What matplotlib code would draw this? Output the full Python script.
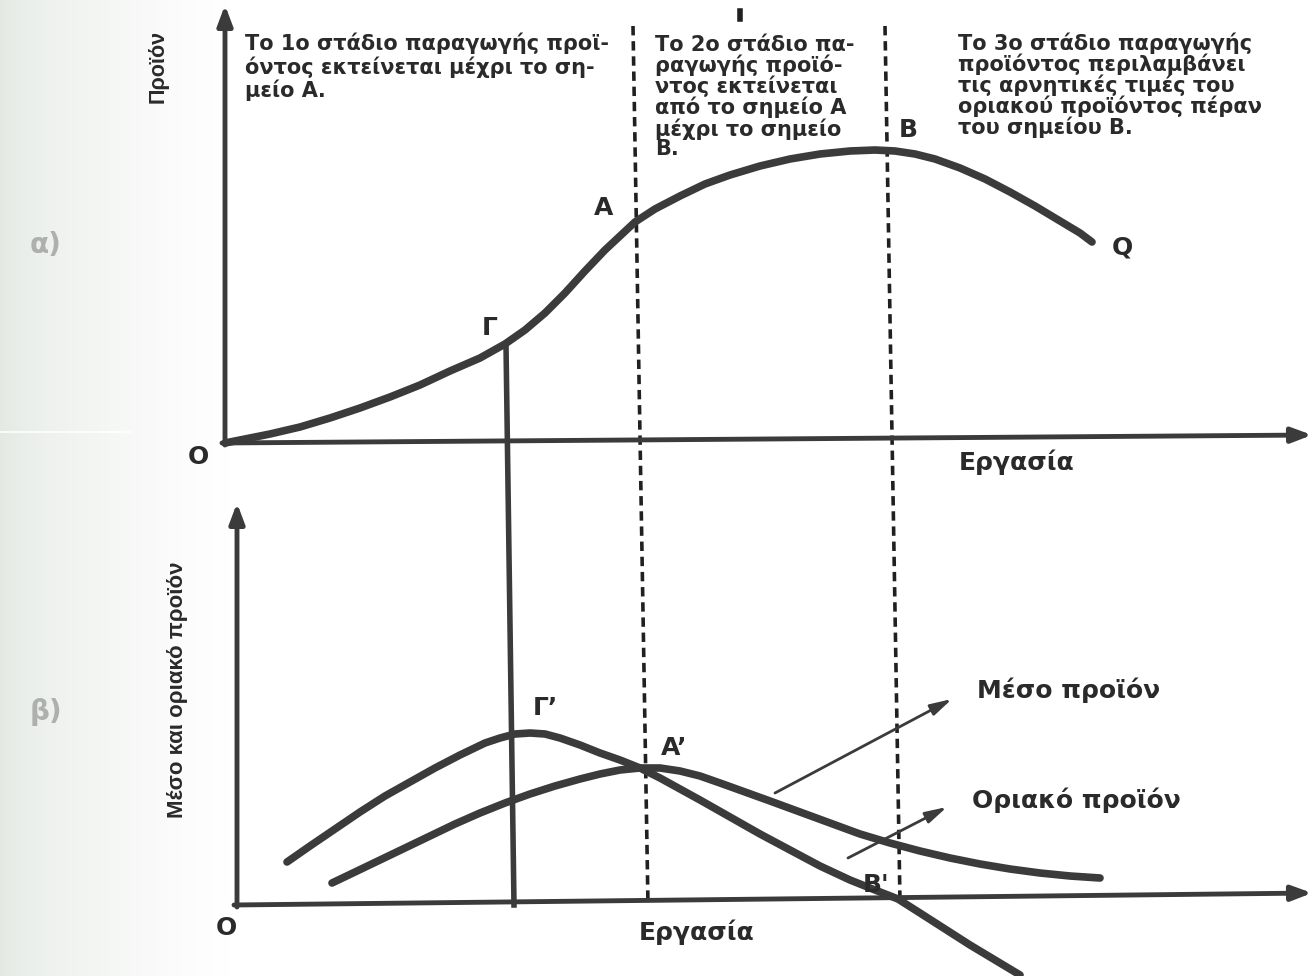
import numpy as np
import matplotlib
matplotlib.use("Agg")
import matplotlib.pyplot as plt

# curve points (pixel coords of the page, y grows downward)
q_x = [225, 245, 270, 300, 330, 360, 390, 420, 450, 480, 505, 525, 545, 565, 585,
       605, 620, 635, 655, 680, 705, 730, 760, 790, 820, 850, 875, 895, 915, 935,
       960, 985, 1010, 1035, 1060, 1080, 1092]
q_y = [443, 439, 434, 427, 418, 408, 397, 385, 371, 358, 344, 330, 313, 293, 271,
       250, 236, 222, 209, 196, 184, 175, 166, 159, 154, 151, 150, 151, 154, 159,
       168, 179, 192, 206, 221, 233, 242]

mp_x = [287, 310, 335, 360, 385, 410, 435, 460, 485, 500, 515, 530, 545, 560, 580,
        600, 620, 640, 660, 680, 700, 730, 760, 790, 820, 850, 875, 898, 920, 945,
        970, 995, 1020]
mp_y = [862, 846, 829, 812, 796, 782, 768, 755, 743, 738, 734, 733, 734, 738, 745,
        753, 760, 768, 778, 789, 800, 817, 834, 850, 866, 880, 890, 899, 913, 929,
        945, 960, 975]

ap_x = [332, 355, 380, 405, 430, 455, 480, 505, 530, 555, 580, 600, 620, 640, 660,
        680, 700, 720, 745, 770, 800, 830, 860, 890, 920, 950, 980, 1010, 1040, 1070,
        1100]
ap_y = [883, 872, 860, 848, 836, 824, 813, 803, 794, 786, 779, 774, 770, 768, 768,
        771, 776, 783, 792, 801, 812, 823, 834, 843, 851, 858, 864, 869, 873, 876,
        878]

stage1 = "Το 1ο στάδιο παραγωγής προϊ-\nόντος εκτείνεται μέχρι το ση-\nμείο Α."
stage2 = "Το 2ο στάδιο πα-\nραγωγής προϊό-\nντος εκτείνεται\nαπό το σημείο Α\nμέχρι το σημείο\nΒ."
stage3 = ("Το 3ο στάδιο παραγωγής\nπροϊόντος περιλαμβάνει\nτις αρνητικές τιμές του\n"
          "οριακού προϊόντος πέραν\nτου σημείου Β.")

ink = "#3b3b3b"

fig = plt.figure(figsize=(13.12, 9.76), dpi=100)
ax = fig.add_axes([0, 0, 1, 1])

# scanner shading on the left edge
grad = np.linspace(0, 1, 256) ** 0.6
bg = np.ones((1, 256, 3))
bg[0, :, 0] = 0.89 + 0.11 * grad
bg[0, :, 1] = 0.91 + 0.09 * grad
bg[0, :, 2] = 0.89 + 0.11 * grad
ax.imshow(bg, extent=[0, 230, 976, 0], aspect="auto", zorder=0)
ax.plot([0, 130], [432, 432], color="white", lw=1.5, alpha=0.8)
ax.set_xlim(0, 1312)
ax.set_ylim(976, 0)
ax.axis("off")

arrow = dict(arrowstyle="-|>,head_length=1.2,head_width=0.45", color=ink, lw=3.5,
             shrinkA=0, shrinkB=0)

# axes of panel a
ax.annotate("", xy=(225, 5), xytext=(225, 445), arrowprops=arrow)
ax.annotate("", xy=(1312, 435), xytext=(222, 443), arrowprops=arrow)
# axes of panel b
ax.annotate("", xy=(237, 503), xytext=(237, 907), arrowprops=arrow)
ax.annotate("", xy=(1312, 893), xytext=(234, 905), arrowprops=arrow)

# dashed stage boundaries
ax.plot([633, 648], [26, 905], color="#202020", lw=2.6, ls=(0, (2.6, 1.6)))
ax.plot([885, 900], [26, 902], color="#202020", lw=2.6, ls=(0, (2.6, 1.6)))
# solid line through Γ and Γ'
ax.plot([506, 514], [345, 905], color=ink, lw=4)

for xs, ys in [(q_x, q_y), (mp_x, mp_y), (ap_x, ap_y)]:
    ax.plot(xs, ys, color=ink, lw=5.5, solid_capstyle="round", solid_joinstyle="round")

# pointer arrows to the labels
ptr = dict(arrowstyle="-|>,head_length=1.3,head_width=0.35", color=ink, lw=2,
           shrinkA=0, shrinkB=0)
ax.annotate("", xy=(952, 699), xytext=(775, 793), arrowprops=ptr)
ax.annotate("", xy=(947, 807), xytext=(848, 858), arrowprops=ptr)

txt = dict(color="#2a2a2a", fontweight="bold", family="DejaVu Sans")
ax.text(245, 33, stage1, fontsize=15, va="top", ha="left", linespacing=1.09, **txt)
ax.text(655, 35, stage2, fontsize=15, va="top", ha="left", linespacing=0.98, **txt)
ax.text(958, 32, stage3, fontsize=15, va="top", ha="left", linespacing=0.98, **txt)

ax.text(1017, 462, "Εργασία", fontsize=18, ha="center", va="center", **txt)
ax.text(697, 932, "Εργασία", fontsize=18, ha="center", va="center", **txt)
ax.text(1069, 690, "Μέσο προϊόν", fontsize=18, ha="center", va="center", **txt)
ax.text(1076, 800, "Οριακό προϊόν", fontsize=18, ha="center", va="center", **txt)

pt = dict(color="#2a2a2a", fontweight="bold", family="DejaVu Sans", fontsize=18,
          ha="center", va="center")
ax.text(198, 457, "O", **pt)
ax.text(226, 928, "O", **pt)
ax.text(490, 328, "Γ", **pt)
ax.text(604, 208, "A", **pt)
ax.text(908, 130, "B", **pt)
ax.text(1122, 248, "Q", **pt)
ax.text(545, 708, "Γ’", **pt)
ax.text(674, 748, "A’", **pt)
ax.text(876, 885, "B'", **pt)

lab = dict(color="#2a2a2a", fontweight="bold", family="Liberation Sans", rotation=90,
           ha="center", va="center")
ax.text(158, 66, "Προϊόν", fontsize=15.5, **lab)
ax.text(178, 690, "Μέσο και οριακό προϊόν", fontsize=16, **lab)

grey = dict(fontsize=20, color="#aeb0ae", fontweight="bold", ha="center", va="center")
ax.text(46, 245, "α)", **grey)
ax.text(46, 712, "β)", **grey)

# small mark at the top of the page
ax.plot([740, 740], [11, 19], color="#202020", lw=4)

fig.savefig("out.png", dpi=100)
